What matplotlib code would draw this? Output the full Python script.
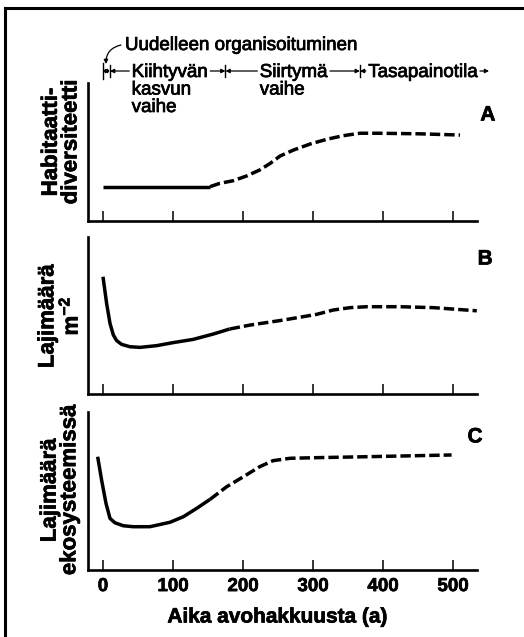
import matplotlib
matplotlib.use("Agg")
import matplotlib.pyplot as plt
import matplotlib.transforms as mtransforms
import matplotlib.patheffects as pe
from matplotlib.lines import Line2D

plt.rcParams['font.family'] = ['Liberation Sans', 'DejaVu Sans']
plt.rcParams['font.weight'] = 'bold'
plt.rcParams['mathtext.fontset'] = 'custom'
plt.rcParams['mathtext.rm'] = 'Liberation Sans:bold'
plt.rcParams['mathtext.it'] = 'Liberation Sans:bold'
plt.rcParams['mathtext.bf'] = 'Liberation Sans:bold'

# ---------------- data ----------------
x_ticks = [0, 100, 200, 300, 400, 500]
x_label = "Aika avohakkuusta (a)"

# Panel A: habitat diversity
a_solid_x = [0, 153]
a_solid_y = [24.9, 24.9]
a_dash_x = [153, 167, 186, 205, 224, 239, 253, 272, 296, 319.6, 343, 367, 391, 450, 510]
a_dash_y = [24.9, 27.3, 29.2, 32.6, 37.0, 41.8, 47.1, 51.4, 55.8, 59.2, 61.8, 63.6, 63.6, 63.2, 62.3]

# Panel B: species per m2
b_solid_x = [0, 5.2, 10, 14.8, 19.5, 26.7, 38.6, 52.9, 76.7, 100, 129, 157.6, 181]
b_solid_y = [74.7, 57.7, 45.0, 37.6, 34.0, 31.6, 30.1, 29.7, 30.8, 32.7, 34.8, 38.2, 41.4]
b_dash_x = [181, 210, 257.6, 305, 329, 353, 377, 424, 472, 534]
b_dash_y = [41.4, 43.9, 47.1, 50.7, 53.5, 55.0, 55.6, 55.6, 55.0, 53.0]

# Panel C: species in ecosystem
c_solid_x = [-7.6, -2, 4.3, 10, 17, 29, 43.3, 67, 95.7, 114.7, 133.8, 152.9]
c_solid_y = [71.7, 57.0, 42.2, 32.7, 29.9, 28.0, 27.4, 27.4, 30.2, 33.7, 39.0, 44.7]
c_dash_x = [152.9, 176.7, 200.4, 224, 243, 267, 305, 377, 498]
c_dash_y = [44.7, 52.7, 59.0, 65.4, 69.2, 70.7, 71.1, 71.7, 72.8]

y_labels = ["Habitaatti-\ndiversiteetti", "Lajimäärä\nm$^{-2}$", "Lajimäärä\nekosysteemissä"]
panel_letters = ["A", "B", "C"]

phase_bounds = [0, 10, 175, 367]
phase_texts = [["Kiihtyvän", "kasvun", "vaihe"], ["Siirtymä", "vaihe"], ["Tasapainotila"]]
phase_text_x = [41, 224, 379]
reorg_text = "Uudelleen organisoituminen"

# ---------------- figure ----------------
W, H = 524, 637
fig = plt.figure(figsize=(W / 100, H / 100), dpi=100)

heavy = [pe.withStroke(linewidth=0.5, foreground='black')]
medium = [pe.withStroke(linewidth=0.55, foreground='black')]


def px_rect(left, top, right, bottom):
    return [left / W, 1 - bottom / H, (right - left) / W, (bottom - top) / H]


axA = fig.add_axes(px_rect(88, 83, 477, 221))
axB = fig.add_axes(px_rect(88, 237, 477, 394))
axC = fig.add_axes(px_rect(88, 412, 477, 570))
axes = [axA, axB, axC]

data = [
    (a_solid_x, a_solid_y, a_dash_x, a_dash_y),
    (b_solid_x, b_solid_y, b_dash_x, b_dash_y),
    (c_solid_x, c_solid_y, c_dash_x, c_dash_y),
]

ylabel_pos = [(-0.069, 0.572), (-0.072, 0.497), (-0.072, 0.506)]
letter_pos = [(1.028, 0.768), (1.021, 0.86), (0.995, 0.842)]

for i, ax in enumerate(axes):
    sx, sy, dx, dy = data[i]
    ax.plot(sx, sy, color='black', lw=2.5, solid_capstyle='butt')
    ax.plot(dx, dy, color='black', lw=2.5, linestyle=(0, (3.0, 1.15)))
    ax.set_xlim(-21.4, 534.3)
    ax.set_ylim(0, 100)
    for s in ['top', 'right']:
        ax.spines[s].set_visible(False)
    for s in ['left', 'bottom']:
        ax.spines[s].set_linewidth(1.9)
    ax.set_xticks(x_ticks)
    ax.set_yticks([])
    ax.tick_params(axis='x', direction='in', length=7, width=1.1,
                   labelsize=13.5, pad=5.8)
    if i < 2:
        ax.tick_params(axis='x', labelbottom=False)
    else:
        for lab in ax.get_xticklabels():
            lab.set_path_effects(heavy)
    ax.text(ylabel_pos[i][0], ylabel_pos[i][1], y_labels[i], transform=ax.transAxes,
            rotation=90, ha='center', va='center', multialignment='center',
            fontsize=16, fontweight='bold', linespacing=0.92, path_effects=heavy)
    ax.text(letter_pos[i][0], letter_pos[i][1], panel_letters[i], transform=ax.transAxes,
            ha='center', va='center', fontsize=15, fontweight='bold', path_effects=heavy)

axC.text(0.488, (570 - 617) / 158, x_label, transform=axC.transAxes,
         ha='center', va='center', fontsize=15, fontweight='bold', path_effects=heavy)

# ---------------- phase annotation ----------------
trans = mtransforms.blended_transform_factory(axA.transData, axA.transAxes)
row_y = (221 - 71) / 138
line_step = 17.5 / 138
base_y = (221 - 77) / 138
pfs = 13.5

first_lines = []
for lines, x in zip(phase_texts, phase_text_x):
    for li, s in enumerate(lines):
        t = axA.text(x, base_y - li * line_step, s, transform=trans, ha='left',
                     va='baseline', fontsize=pfs, fontweight='normal', clip_on=False,
                     path_effects=medium)
        if li == 0:
            first_lines.append(t)

axA.text(31.4, (221 - 50) / 138, reorg_text, transform=trans, ha='left', va='baseline',
         fontsize=pfs, fontweight='normal', clip_on=False, path_effects=medium)

# bars
for j, b in enumerate(phase_bounds):
    h = 0.055 if j == 0 else 0.045
    axA.add_line(Line2D([b, b], [row_y - h, row_y + h], transform=trans, color='black',
                        lw=1.0, clip_on=False))

fig.canvas.draw()
renderer = fig.canvas.get_renderer()
inv = axA.transData.inverted()


def text_x_extent(t):
    bb = t.get_window_extent(renderer)
    x0 = inv.transform((bb.x0, bb.y0))[0]
    x1 = inv.transform((bb.x1, bb.y0))[0]
    return x0, x1


def arrow(x_from, x_to):
    axA.annotate('', xy=(x_to, row_y), xytext=(x_from, row_y), xycoords=trans,
                 textcoords=trans, annotation_clip=False,
                 arrowprops=dict(arrowstyle='-|>', lw=0.9, color='black',
                                 mutation_scale=6, shrinkA=0, shrinkB=0))


gap = 3.5
# re-organisation double arrow
arrow(5, phase_bounds[0])
arrow(5, phase_bounds[1])
# phases
for k, t in enumerate(first_lines):
    x0, x1 = text_x_extent(t)
    arrow(x0 - gap, phase_bounds[k + 1])
    if k + 2 < len(phase_bounds):
        arrow(x1 + gap, phase_bounds[k + 2])
    else:
        arrow(x1 + gap, x1 + gap + 13)

# curved arrow from reorganisation text
axA.annotate('', xy=(4.3, (221 - 64) / 138), xytext=(25.7, (221 - 45) / 138),
             xycoords=trans, textcoords=trans, annotation_clip=False,
             arrowprops=dict(arrowstyle='-|>', lw=0.9, color='black', mutation_scale=6,
                             shrinkA=0, shrinkB=0, connectionstyle='arc3,rad=0.4'))

# outer frame (top and left visible)
fig.add_artist(Line2D([5 / W, 1.0], [1 - 8 / H, 1 - 8 / H], transform=fig.transFigure,
                      color='black', lw=2.2))
fig.add_artist(Line2D([5 / W, 5 / W], [1 - 8 / H, 0.0], transform=fig.transFigure,
                      color='black', lw=2.2))

fig.savefig("out.png", dpi=100)
